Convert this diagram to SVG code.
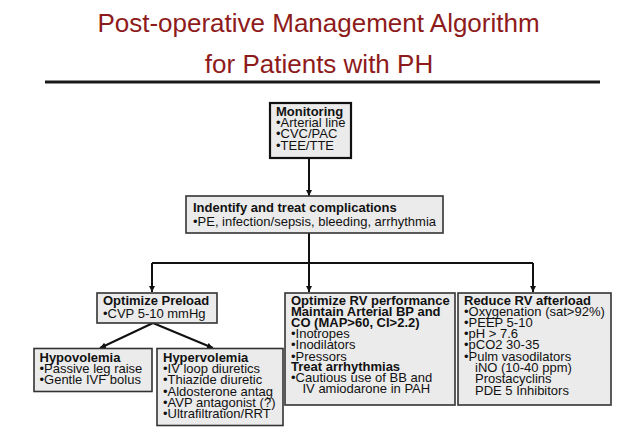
<svg xmlns="http://www.w3.org/2000/svg" width="642" height="437" viewBox="0 0 642 437">
<defs>
<marker id="ah" viewBox="0 0 8 8" refX="8" refY="4" markerWidth="6" markerHeight="6" markerUnits="userSpaceOnUse" orient="auto">
<path d="M0,0 L8,4 L0,8 z" fill="#111"/>
</marker>
<style>
.title{font-family:"Liberation Sans",Arial,sans-serif;font-size:26px;fill:#8e1b1b;text-anchor:middle}
.box{fill:#ebebeb;stroke:#333;stroke-width:1.6}
.mbox{fill:#ebebeb;stroke:#111;stroke-width:2.2}
text.t{font-family:"Liberation Sans",Arial,sans-serif;font-size:13px;fill:#111}
.b{font-weight:bold}
.c{fill:none;stroke:#111;stroke-width:2;marker-end:url(#ah)}
.l{fill:none;stroke:#111;stroke-width:2}
</style>
</defs>
<rect width="642" height="437" fill="#fff"/>
<g id="title">
<text class="title" x="318.5" y="32">Post-operative Management Algorithm</text>
<text class="title" x="319" y="73">for Patients with PH</text>
<line x1="45" y1="82" x2="600" y2="82" stroke="#1a1a1a" stroke-width="3"/>
</g>
<g id="connectors">
<line class="c" x1="309" y1="158" x2="309" y2="196"/>
<polyline class="l" points="309,233 309,263"/>
<polyline class="l" points="152,263 533,263"/>
<line class="c" x1="152" y1="263" x2="152" y2="292"/>
<line class="c" x1="309" y1="263" x2="309" y2="292"/>
<line class="c" x1="533" y1="263" x2="533" y2="292"/>
<line class="c" x1="153" y1="323" x2="100" y2="348"/>
<line class="c" x1="153" y1="323" x2="213" y2="348"/>
</g>
<g id="monitoring">
<rect class="mbox" x="270" y="103" width="81" height="55"/>
<text class="t" x="276" y="115.7"><tspan class="b">Monitoring</tspan><tspan x="276" y="127.2">•Arterial line</tspan><tspan x="276" y="138.4">•CVC/PAC</tspan><tspan x="276" y="149.5">•TEE/TTE</tspan></text>
</g>
<g id="complications">
<rect class="box" x="186" y="196" width="257" height="37"/>
<text class="t" x="193" y="211.5"><tspan class="b">Indentify and treat complications</tspan><tspan x="193" y="225.5">•PE, infection/sepsis, bleeding, arrhythmia</tspan></text>
</g>
<g id="preload">
<rect class="box" x="97" y="293" width="120" height="30"/>
<text class="t" x="103" y="305"><tspan class="b">Optimize Preload</tspan><tspan x="103" y="318">•CVP 5-10 mmHg</tspan></text>
</g>
<g id="hypovolemia">
<rect class="box" x="34" y="348.5" width="118" height="43"/>
<text class="t" x="39.5" y="361.5"><tspan class="b">Hypovolemia</tspan><tspan x="39.5" y="372.7">•Passive leg raise</tspan><tspan x="39.5" y="384.3">•Gentle IVF bolus</tspan></text>
</g>
<g id="hypervolemia">
<rect class="box" x="157" y="348.5" width="126" height="77"/>
<text class="t" x="163" y="361.5"><tspan class="b">Hypervolemia</tspan><tspan x="163" y="372.5">•IV loop diuretics</tspan><tspan x="163" y="384">•Thiazide diuretic</tspan><tspan x="163" y="395.5">•Aldosterone antag</tspan><tspan x="163" y="406.8">•AVP antagonist (?)</tspan><tspan x="163" y="418.2">•Ultrafiltration/RRT</tspan></text>
</g>
<g id="rv-performance">
<rect class="box" x="285" y="293" width="170" height="112"/>
<text class="t" x="291" y="305"><tspan class="b">Optimize RV performance</tspan><tspan class="b" x="291" y="315.8">Maintain Arterial BP and</tspan><tspan class="b" x="291" y="326.7">CO (MAP&gt;60, CI&gt;2.2)</tspan><tspan x="291" y="337.7">•Inotropes</tspan><tspan x="291" y="349">•Inodilators</tspan><tspan x="291" y="360.5">•Pressors</tspan><tspan class="b" x="291" y="370.8">Treat arrhythmias</tspan><tspan x="291" y="381.8">•Cautious use of BB and</tspan><tspan x="302.5" y="393.3">IV amiodarone in PAH</tspan></text>
</g>
<g id="rv-afterload">
<rect class="box" x="458" y="293" width="153" height="112"/>
<text class="t" x="464" y="305"><tspan class="b">Reduce RV afterload</tspan><tspan x="464" y="315.8">•Oxygenation (sat&gt;92%)</tspan><tspan x="464" y="326.7">•PEEP 5-10</tspan><tspan x="464" y="337.7">•pH &gt; 7.6</tspan><tspan x="464" y="349">•pCO2 30-35</tspan><tspan x="464" y="360.5">•Pulm vasodilators</tspan><tspan x="475" y="371.7">iNO (10-40 ppm)</tspan><tspan x="475" y="382.5">Prostacyclins</tspan><tspan x="475" y="395">PDE 5 Inhibitors</tspan></text>
</g>
</svg>
